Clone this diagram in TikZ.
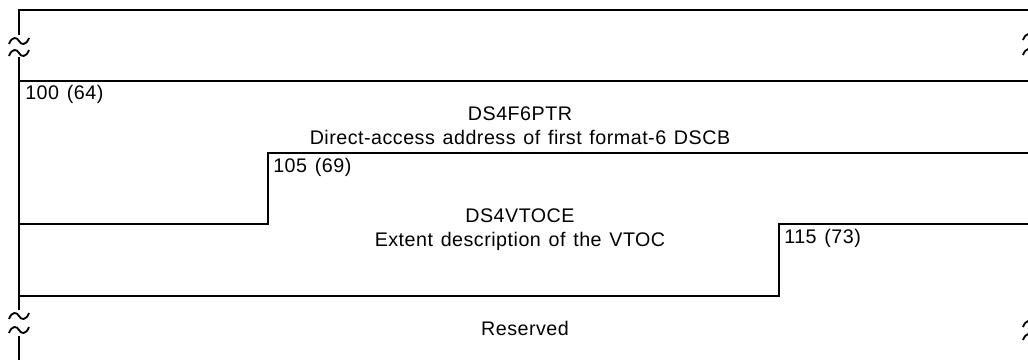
\documentclass[tikz,border=0pt]{standalone}
\usepackage{fontspec}
\setmainfont[LetterSpace=2.5,WordSpace=1.3]{Liberation Sans}
\usetikzlibrary{positioning}

\tikzset{
  rule/.style={line width=1.3pt},
  brk/.pic={\draw[line width=1.3pt] (-10,3) .. controls (-7,-5) and (-2,-4) .. (0,0) .. controls (2,4) and (7,5) .. (10,-3);},
  offs/.style={anchor=base west, inner sep=0pt, font=\fontsize{14}{16}\selectfont},
  fld/.style={anchor=base, inner sep=0pt, font=\fontsize{14}{16}\selectfont}
}

\begin{document}
\begin{tikzpicture}[x=0.025cm, y=-0.025cm]
  \useasboundingbox (0,0) rectangle (1028,360);
  \clip (0,0) rectangle (1028,360);

  % Rahmen und Feldgrenzen
  \draw[rule] (19,35) |- (1028,10);
  \draw[rule] (19,57) -- (19,310);
  \draw[rule] (19,336) -- (19,360);
  \draw[rule] (19,81) -- (1028,81);
  \draw[rule] (19,224) -| (268,153) -- (1028,153);
  \draw[rule] (19,296) -| (779,224) -- (1028,224);

  % Bruchzeichen
  \pic at (19,41) {brk};
  \pic at (19,53) {brk};
  \pic at (19,316) {brk};
  \pic at (19,330) {brk};
  \pic at (1033,37) {brk};
  \pic at (1033,52) {brk};
  \pic at (1033,324) {brk};
  \pic at (1033,337) {brk};

  % Offsets
  \node[offs] (off100) at (25,100) {100 (64)};
  \node[offs] (off105) at (273,173) {105 (69)};
  \node[offs] (off115) at (784,244) {115 (73)};

  % Felder
  \node[fld] (f6ptr) at (520,121) {DS4F6PTR};
  \node[fld] (f6desc) at (520,145) {Direct-access address of first format-6 DSCB};
  \node[fld] (vtoce) at (520,223) {DS4VTOCE};
  \node[fld] (vtocdesc) at (520,247) {Extent description of the VTOC};
  \node[fld] (resv) at (525,335) {Reserved};
\end{tikzpicture}
\end{document}
